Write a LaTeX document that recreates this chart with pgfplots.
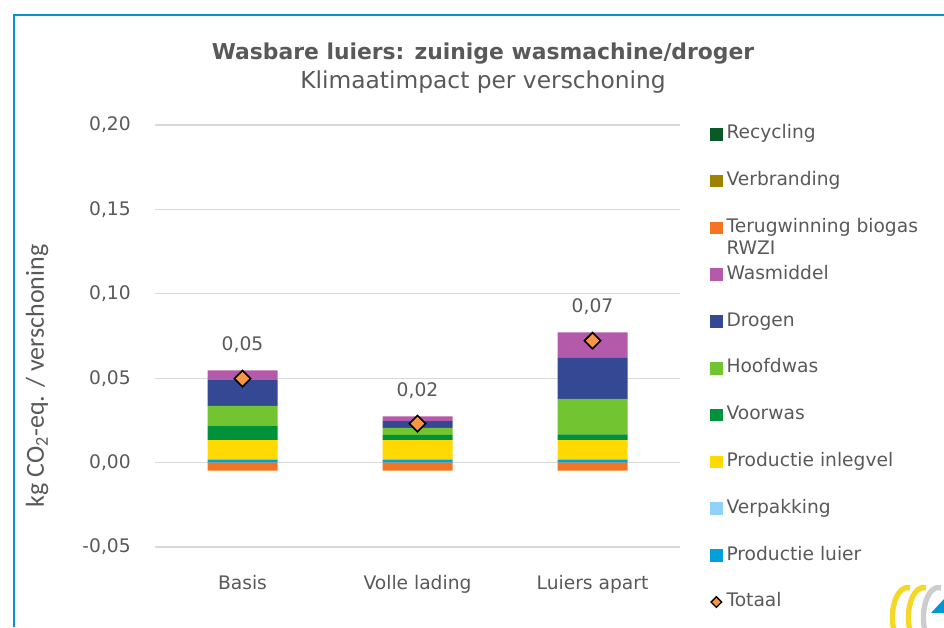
\documentclass[border=0pt]{standalone}
\usepackage{fontspec}
\setmainfont{DejaVu Sans}
\newfontfamily\carlito{Carlito}
\usepackage{pgfplots}
\pgfplotsset{compat=1.18}
\definecolor{cTxt}{RGB}{89,89,89}
\definecolor{cGrid}{RGB}{217,217,217}
\definecolor{cFrame}{RGB}{0,150,214}
\definecolor{cRec}{RGB}{10,90,40}
\definecolor{cVerb}{RGB}{158,130,0}
\definecolor{cTer}{RGB}{244,116,33}
\definecolor{cWas}{RGB}{180,90,170}
\definecolor{cDro}{RGB}{52,72,148}
\definecolor{cHoo}{RGB}{114,196,49}
\definecolor{cVoo}{RGB}{0,146,58}
\definecolor{cInl}{RGB}{255,217,0}
\definecolor{cVerp}{RGB}{145,210,250}
\definecolor{cLui}{RGB}{0,160,220}
\definecolor{cTot}{RGB}{247,150,70}
\definecolor{cLogoY}{RGB}{245,215,40}
\definecolor{cLogoG}{RGB}{205,205,205}
\begin{document}
\begin{tikzpicture}[x=0.75pt,y=0.75pt]
\useasboundingbox (0,0) rectangle (944,627);
\draw[cFrame, line width=0.9pt] (14,0) -- (14,612) -- (944,612);
\node[anchor=base, text=cTxt, font=\fontsize{16.4}{19}\selectfont\bfseries] at (483,567) {Wasbare luiers: zuinige wasmachine/droger};
\node[anchor=base, text=cTxt, font=\fontsize{17.5}{21}\selectfont] at (483,538) {Klimaatimpact per verschoning};
\node[rotate=90, text=cTxt, font=\carlito\fontsize{19.5}{23}\selectfont] at (37,251) {kg CO\textsubscript{2}-eq. / verschoning};
% logo (decorative, partly cut off)
\begin{scope}
\clip (850,0) rectangle (944,45);
\draw[cLogoY, line width=4pt] (910,39) arc[start angle=80, end angle=230, x radius=15, y radius=30];
\draw[cLogoY, line width=4pt] (926,39) arc[start angle=80, end angle=230, x radius=15, y radius=30];
\draw[cLogoG, line width=4pt] (941,39) arc[start angle=80, end angle=230, x radius=15, y radius=30];
\fill[cFrame] (931,14) -- (944,28) -- (944,14) -- cycle;
\end{scope}

\begin{axis}[
  at={(116.25pt,60pt)}, anchor=south west,
  scale only axis, width=393.75pt, height=316.5pt,
  xmin=-0.5, xmax=2.5, ymin=-0.05, ymax=0.2,
  ybar stacked, bar width=52.5pt,
  xtick={0,1,2}, xticklabels={Basis,Volle lading,Luiers apart},
  ytick={-0.05,0,0.05,0.1,0.15,0.2},
  ymajorgrids, grid style={draw=cGrid, line width=0.9pt},
  axis line style={draw=none}, major tick length=0pt,
  tick label style={text=cTxt, font=\fontsize{14}{17}\selectfont},
  yticklabel style={anchor=east, inner sep=0pt, xshift=-18pt,
    /pgf/number format/.cd, fixed, fixed zerofill, precision=2, use comma, assume math mode=true},
  xticklabel style={anchor=north, inner sep=0pt, yshift=-21pt},
  legend cell align=left,
  legend style={at={(1.0571,1)}, anchor=north west, draw=none, fill=none, inner sep=0pt,
    row sep=21.9pt, column sep=3pt, font=\fontsize{14}{17.3}\selectfont, text=cTxt,
    nodes={inner sep=0pt, text height=10.2pt, text depth=3pt}},
]
% Terugwinning biogas RWZI (negative, stacked separately below zero)
\addplot[forget plot, fill=cTer, draw=none] coordinates {(0,-0.0047) (1,-0.0047) (2,-0.0047)};
% Productie luier
\addplot[forget plot, fill=cLui, draw=none] coordinates {(0,0.0018) (1,0.0018) (2,0.0018)};
% Verpakking
\addplot[forget plot, fill=cVerp, draw=none] coordinates {(0,0.0004) (1,0.0004) (2,0.0004)};
% Productie inlegvel
\addplot[forget plot, fill=cInl, draw=none] coordinates {(0,0.0111) (1,0.0111) (2,0.0111)};
% Voorwas
\addplot[forget plot, fill=cVoo, draw=none] coordinates {(0,0.0083) (1,0.0031) (2,0.0034)};
% Hoofdwas
\addplot[forget plot, fill=cHoo, draw=none] coordinates {(0,0.0120) (1,0.0041) (2,0.0211)};
% Drogen
\addplot[forget plot, fill=cDro, draw=none] coordinates {(0,0.0152) (1,0.0041) (2,0.0243)};
% Wasmiddel
\addplot[forget plot, fill=cWas, draw=none] coordinates {(0,0.0059) (1,0.0028) (2,0.0150)};
% Verbranding
\addplot[forget plot, fill=cVerb, draw=none] coordinates {(0,0) (1,0) (2,0)};
% Recycling
\addplot[forget plot, fill=cRec, draw=none] coordinates {(0,0) (1,0) (2,0)};

\addlegendimage{legend image code/.code={\fill[cRec] (0pt,-4.4pt) rectangle (8.8pt,4.4pt);}}
\addlegendentry{Recycling}
\addlegendimage{legend image code/.code={\fill[cVerb] (0pt,-4.4pt) rectangle (8.8pt,4.4pt);}}
\addlegendentry{Verbranding}
\addlegendimage{legend image code/.code={\fill[cTer] (0pt,-4.4pt) rectangle (8.8pt,4.4pt);}}
\addlegendentry{\begin{tabular}[t]{@{}l@{}}Terugwinning biogas\\[-0.5pt]RWZI\end{tabular}}
\addlegendimage{legend image code/.code={\fill[cWas] (0pt,-4.4pt) rectangle (8.8pt,4.4pt);}}
\addlegendentry{Wasmiddel}
\addlegendimage{legend image code/.code={\fill[cDro] (0pt,-4.4pt) rectangle (8.8pt,4.4pt);}}
\addlegendentry{Drogen}
\addlegendimage{legend image code/.code={\fill[cHoo] (0pt,-4.4pt) rectangle (8.8pt,4.4pt);}}
\addlegendentry{Hoofdwas}
\addlegendimage{legend image code/.code={\fill[cVoo] (0pt,-4.4pt) rectangle (8.8pt,4.4pt);}}
\addlegendentry{Voorwas}
\addlegendimage{legend image code/.code={\fill[cInl] (0pt,-4.4pt) rectangle (8.8pt,4.4pt);}}
\addlegendentry{Productie inlegvel}
\addlegendimage{legend image code/.code={\fill[cVerp] (0pt,-4.4pt) rectangle (8.8pt,4.4pt);}}
\addlegendentry{Verpakking}
\addlegendimage{legend image code/.code={\fill[cLui] (0pt,-4.4pt) rectangle (8.8pt,4.4pt);}}
\addlegendentry{Productie luier}
\addlegendimage{legend image code/.code={\draw[fill=cTot, draw=black, line width=1pt] (4.4pt,4pt) -- (8.4pt,0pt) -- (4.4pt,-4pt) -- (0.4pt,0pt) -- cycle;}}
\addlegendentry{Totaal}
\end{axis}

\begin{axis}[
  at={(116.25pt,60pt)}, anchor=south west,
  scale only axis, width=393.75pt, height=316.5pt,
  xmin=-0.5, xmax=2.5, ymin=-0.05, ymax=0.2,
  hide axis, clip=false,
]
\addplot[only marks, mark=square*, mark size=4.3pt,
  mark options={rotate=45, fill=cTot, draw=black, line width=1.2pt}]
  coordinates {(0,0.0497) (1,0.0231) (2,0.0722)};
\addplot[draw=none, mark=none, nodes near coords, point meta=explicit symbolic,
  nodes near coords style={anchor=south, inner sep=0pt, yshift=13pt, text=cTxt, font=\fontsize{14}{17}\selectfont}]
  coordinates {(0,0.0549)[0,05] (1,0.0276)[0,02] (2,0.0773)[0,07]};
\end{axis}
\end{tikzpicture}
\end{document}
